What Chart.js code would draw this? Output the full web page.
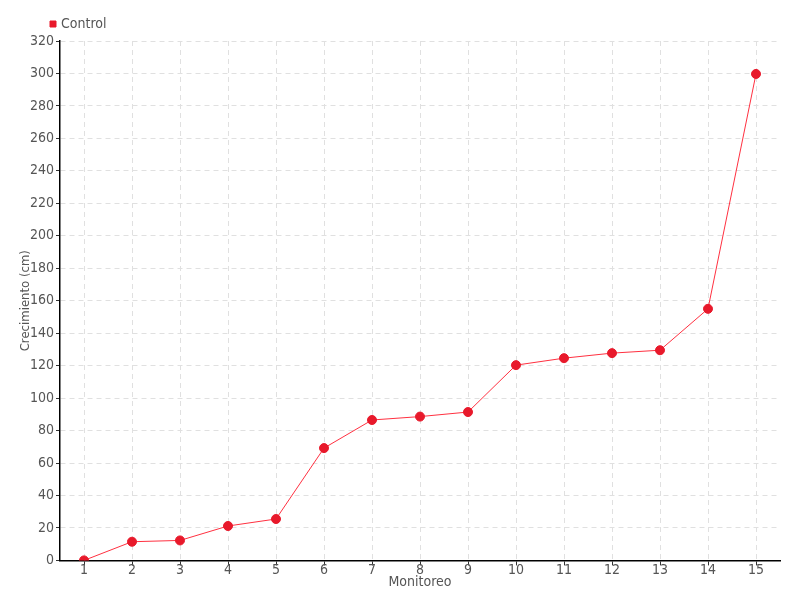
<!DOCTYPE html>
<html>
<head>
<meta charset="utf-8">
<script src="https://cdn.jsdelivr.net/npm/chart.js@4/dist/chart.umd.min.js"></script>
<style>
html,body{margin:0;padding:0;background:#fff;}
#wrap{width:800px;height:600px;}
</style>
</head>
<body>
<div id="wrap"><canvas id="c" width="800" height="600"></canvas></div>
<script>
const categories = ["1","2","3","4","5","6","7","8","9","10","11","12","13","14","15"];
const controlValues = [0, 11.5, 12.3, 21.2, 25.5, 69.2, 86.5, 88.6, 91.4, 120.3, 124.6, 127.7, 129.5, 155, 299.7];
const seriesName = "Control";
const xTitle = "Monitoreo";
const yTitle = "Crecimiento (cm)";

const FONT = "'Liberation Sans Narrow', 'DejaVu Sans Condensed', 'Roboto', sans-serif";

new Chart(document.getElementById('c'), {
  type: 'line',
  data: {
    labels: categories,
    datasets: [{
      label: seriesName,
      data: controlValues,
      borderColor: '#ff3040',
      backgroundColor: '#e8192b',
      borderWidth: 1,
      pointRadius: 4.5,
      pointBackgroundColor: '#e8192b',
      pointBorderColor: '#e8192b',
      pointBorderWidth: 1,
      tension: 0
    }]
  },
  options: {
    responsive: false,
    animation: false,
    layout: { padding: { left: 18, right: 20, top: 9, bottom: 9 } },
    plugins: {
      legend: {
        position: 'top',
        align: 'start',
        labels: {
          usePointStyle: true,
          pointStyle: 'rect',
          boxWidth: 2,
          boxHeight: 6,
          padding: 8,
          color: '#555',
          font: { family: FONT, size: 14 }
        }
      },
      tooltip: { enabled: false }
    },
    scales: {
      x: {
        offset: true,
        grid: {
          offset: false,
          color: '#e0e0e0',
          tickColor: '#333',
          tickLength: 5
        },
        border: { color: '#000', width: 1.5, dash: [5,4] },
        ticks: { color: '#555', font: { family: FONT, size: 14 }, padding: -3 },
        title: { display: true, text: xTitle, color: '#555', font: { family: FONT, size: 14 }, padding: { top: -2, bottom: 0 } }
      },
      y: {
        min: 0, max: 320,
        afterFit(scale) { scale.width = 42; },
        ticks: { stepSize: 20, color: '#555', font: { family: FONT, size: 14 }, padding: 2 },
        grid: { color: '#e0e0e0', tickColor: '#333', tickLength: 4 },
        border: { color: '#000', width: 1.5, dash: [5,4] },
        title: { display: true, text: yTitle, color: '#555', font: { family: FONT, size: 13 }, padding: { top: 0, bottom: 0 } }
      }
    }
  },
  plugins: [{
    id: 'shiftLegend',
    afterLayout(chart) {
      if (chart.legend) { chart.legend.left += 26; }
    }
  }]
});
</script>
</body>
</html>
